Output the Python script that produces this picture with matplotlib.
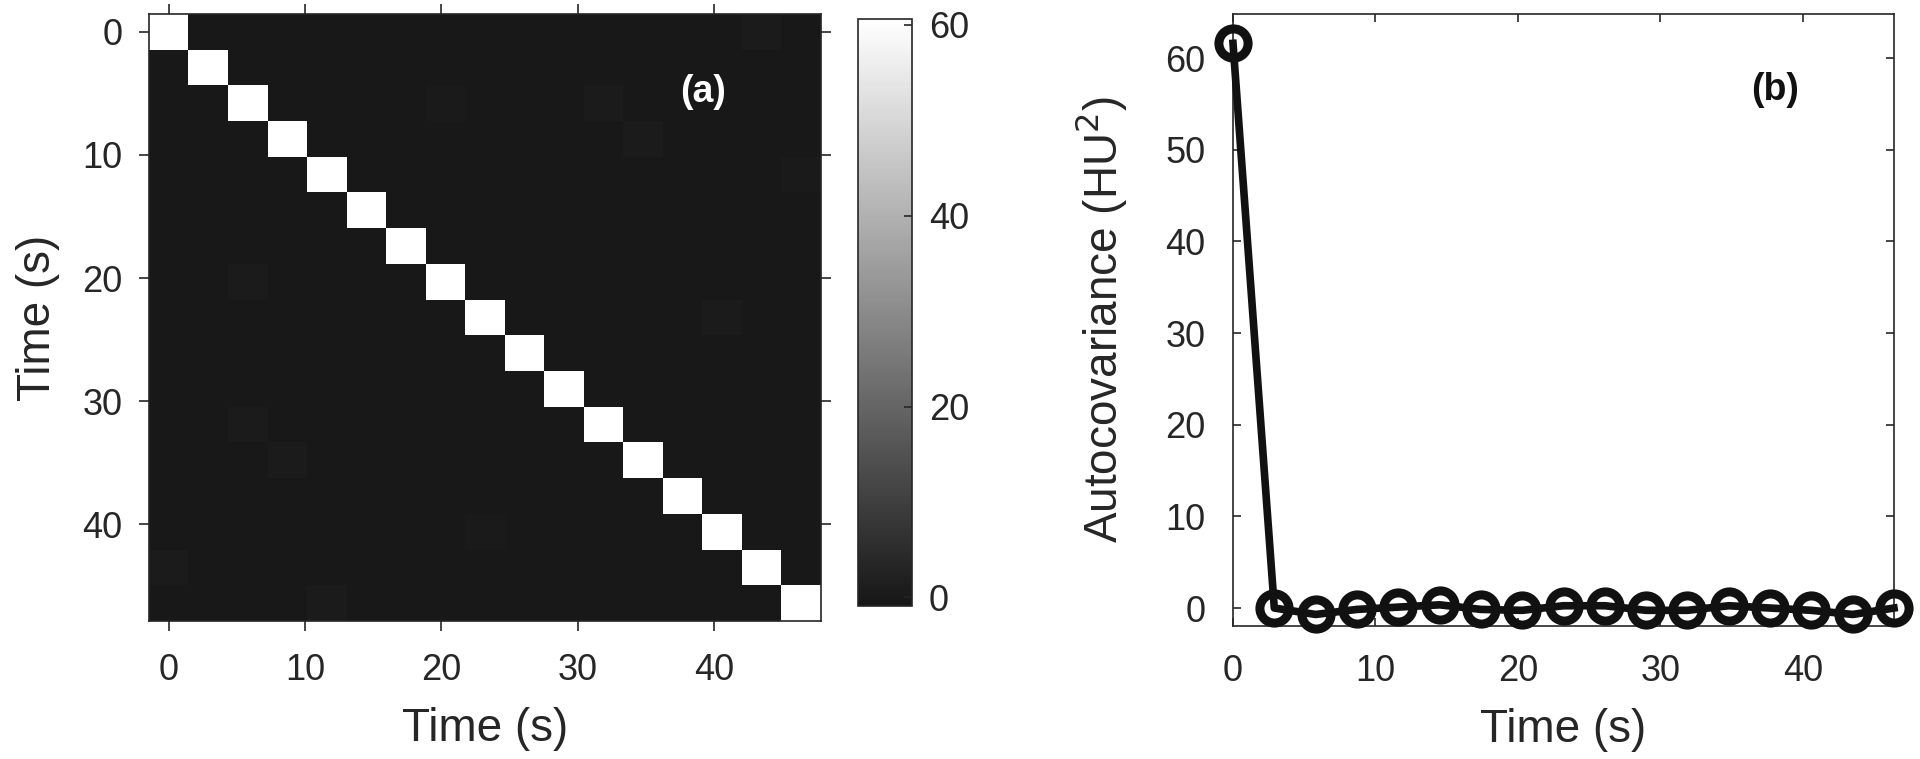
import numpy as np
import matplotlib.pyplot as plt
from matplotlib.colors import LinearSegmentedColormap

plt.rcParams['font.family'] = ['Liberation Sans', 'DejaVu Sans']

# sample times (s), 17 frames
dt = 2.9
n_frames = 17
times = np.arange(n_frames) * dt

# (a) covariance matrix: diagonal variance + a few faint off-diagonal cells
diag_var = [61.6, 61.5, 61.7, 61.4, 61.6, 61.5, 61.6, 61.7,
            61.5, 61.6, 61.4, 61.6, 61.5, 61.7, 61.6, 61.5, 61.6]
faint_rows = [0, 2, 2, 3, 4, 7, 8, 11, 12, 14, 15, 16]
faint_cols = [15, 7, 11, 12, 16, 2, 14, 2, 3, 8, 0, 4]
faint_vals = [0.6, 0.5, 0.7, 0.6, 0.5, 0.6, 0.7, 0.6, 0.6, 0.5, 0.7, 0.6]

# (b) autocovariance vs lag
acov = [61.6, 0.0, -0.7, -0.15, 0.1, 0.35, -0.15, -0.25, 0.25,
        0.25, -0.25, -0.25, 0.25, 0.0, -0.25, -0.7, 0.0]

cov = np.zeros((n_frames, n_frames))
cov[np.arange(n_frames), np.arange(n_frames)] = diag_var
for r, c, v in zip(faint_rows, faint_cols, faint_vals):
    cov[r, c] = v

txt_col = '#262626'
cmap = LinearSegmentedColormap.from_list('g', ['#161616', '#ffffff'])

W, H = 1920, 759
fig = plt.figure(figsize=(W / 100, H / 100), dpi=100)

# panel a
ax1 = fig.add_axes([149 / W, 1 - 621 / H, 672 / W, 607 / H])
ext = [times[0] - dt / 2, times[-1] + dt / 2, times[-1] + dt / 2, times[0] - dt / 2]
im = ax1.imshow(cov, cmap=cmap, vmin=-0.9, vmax=60.6, extent=ext,
                aspect='auto', interpolation='nearest')
ax1.set_xticks([0, 10, 20, 30, 40])
ax1.set_yticks([0, 10, 20, 30, 40])
ax1.tick_params(direction='out', length=7, width=1.2, color=txt_col,
                labelsize=26, labelcolor=txt_col, top=True, right=True)
ax1.tick_params(axis='x', pad=16)
ax1.tick_params(axis='y', pad=12)
ax1.set_xlabel('Time (s)', fontsize=33, color=txt_col, labelpad=14)
ax1.set_ylabel('Time (s)', fontsize=33, color=txt_col, labelpad=16)
for s in ax1.spines.values():
    s.set_color(txt_col)
    s.set_linewidth(1.2)
ax1.text(0.825, 0.872, '(a)', transform=ax1.transAxes, color='white',
         fontsize=27, fontweight='bold', ha='center', va='center')

# colorbar
cax = fig.add_axes([858 / W, 1 - 606 / H, 54 / W, 587 / H])
cb = fig.colorbar(im, cax=cax, ticks=[0, 20, 40, 60])
cb.ax.tick_params(direction='in', length=6, width=1.2, color=txt_col,
                  labelsize=26, labelcolor=txt_col, pad=12)
cb.outline.set_edgecolor(txt_col)
cb.outline.set_linewidth(1.2)

# panel b
ax2 = fig.add_axes([1233 / W, 1 - 626 / H, 661 / W, 612 / H])
ax2.plot(times, acov, color='#111111', lw=5.5, marker='o', ms=21,
         mfc='none', mec='#111111', mew=6.5, clip_on=False, zorder=3)
ax2.set_xlim(0, times[-1])
ax2.set_ylim(-1.96, 64.8)
ax2.set_xticks([0, 10, 20, 30, 40])
ax2.set_yticks([0, 10, 20, 30, 40, 50, 60])
ax2.tick_params(direction='in', length=6, width=1.2, color=txt_col,
                labelsize=26, labelcolor=txt_col, top=True, right=True)
ax2.tick_params(axis='x', pad=20)
ax2.tick_params(axis='y', pad=20)
ax2.set_xlabel('Time (s)', fontsize=33, color=txt_col, labelpad=14)
ax2.set_ylabel('Autocovariance (HU$^2$)', fontsize=33, color=txt_col, labelpad=26)
for s in ax2.spines.values():
    s.set_color(txt_col)
    s.set_linewidth(1.2)
ax2.text(0.82, 0.875, '(b)', transform=ax2.transAxes, color='#111111',
         fontsize=27, fontweight='bold', ha='center', va='center')

fig.savefig('out.png', dpi=100)
